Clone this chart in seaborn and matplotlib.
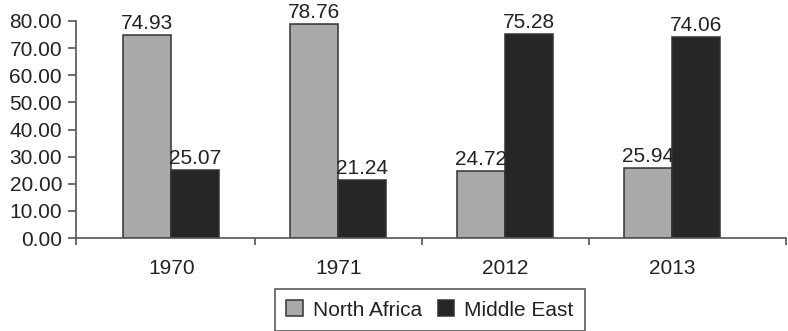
import matplotlib
matplotlib.use("Agg")
import matplotlib.pyplot as plt
import seaborn as sns
import pandas as pd
from matplotlib.ticker import FixedLocator

years = ["1970", "1971", "2012", "2013"]
north_africa = [74.93, 78.76, 24.72, 25.94]
middle_east = [25.07, 21.24, 75.28, 74.06]
series_names = ["North Africa", "Middle East"]
series_colors = ["#a9a9a9", "#262626"]
y_ticks = [0, 10, 20, 30, 40, 50, 60, 70, 80]

df = pd.DataFrame({
    "year": years * 2,
    "share": north_africa + middle_east,
    "region": [series_names[0]] * len(years) + [series_names[1]] * len(years),
})

sns.set_theme(style="white")
plt.rcParams["font.family"] = ["Liberation Sans", "DejaVu Sans"]

FS = 15

fig = plt.figure(figsize=(7.88, 3.31), dpi=100)
ax = fig.add_axes([76 / 788, 1 - 238 / 331, (786 - 76) / 788, (238 - 21) / 331])

sns.barplot(data=df, x="year", y="share", hue="region", order=years,
            hue_order=series_names, palette=series_colors, width=0.575,
            edgecolor="#333333", linewidth=1.1, saturation=1, ax=ax,
            legend=True)

for container in ax.containers:
    ax.bar_label(container, fmt="%.2f", padding=1.5, fontsize=FS,
                 color="#222222")

ax.set_ylim(0, 80)
ax.set_xlim(-0.57, 3.68)
ax.set_yticks(y_ticks)
ax.set_yticklabels([f"{v:.2f}" for v in y_ticks])
ax.set_xlabel("")
ax.set_ylabel("")

ax.xaxis.set_minor_locator(FixedLocator([-0.57, 0.5, 1.5, 2.5, 3.68]))
ax.tick_params(axis="x", which="major", length=0, pad=15, labelsize=FS,
               labelcolor="#222222")
ax.tick_params(axis="x", which="minor", bottom=True, length=5, width=1.2,
               color="#555555", direction="out")
ax.tick_params(axis="y", left=True, length=6, width=1.2, color="#555555",
               pad=4, labelsize=FS, labelcolor="#222222", direction="out")

for side in ["top", "right"]:
    ax.spines[side].set_visible(False)
for side in ["left", "bottom"]:
    ax.spines[side].set_color("#555555")
    ax.spines[side].set_linewidth(1.2)

handles, labels = ax.get_legend_handles_labels()
ax.get_legend().remove()
leg = fig.legend(handles, labels, loc="center",
                 bbox_to_anchor=(430 / 788, 1 - 310 / 331), ncol=2,
                 fontsize=FS, frameon=True, fancybox=False,
                 handlelength=0.78, handleheight=0.78, handletextpad=0.48,
                 columnspacing=0.78, borderpad=0.55, borderaxespad=0)
leg.get_frame().set_edgecolor("#333333")
leg.get_frame().set_linewidth(1.2)
for txt in leg.get_texts():
    txt.set_color("#222222")

fig.savefig("out.png", dpi=100)
